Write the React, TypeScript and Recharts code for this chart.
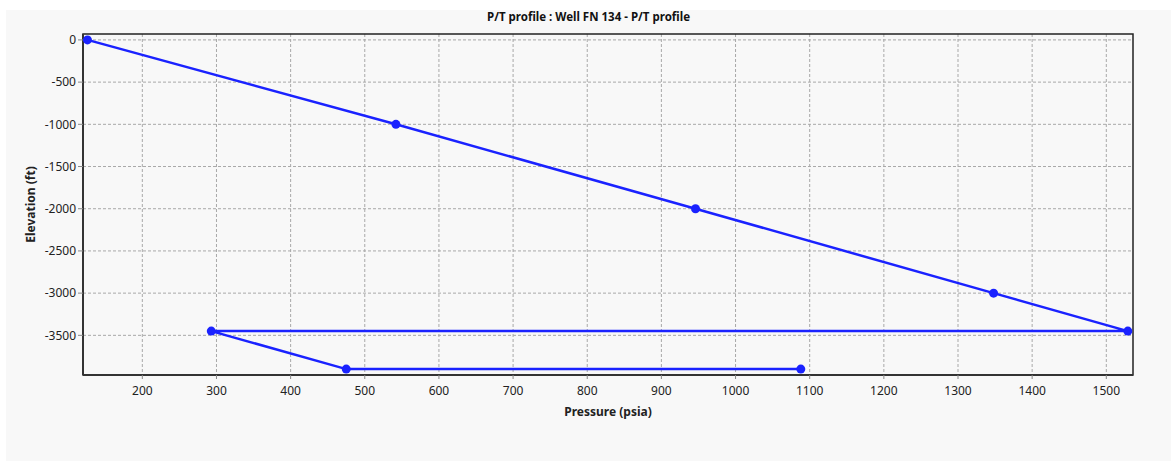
import {
  CartesianGrid,
  Label,
  Line,
  LineChart,
  ReferenceArea,
  XAxis,
  YAxis,
} from "recharts";

document.body.style.margin = "0";

// pressure (psia) vs elevation (ft), in the order the profile is walked
const pressure = [126, 542, 946, 1348, 1529, 293, 475, 1088];
const elevation = [0, -1000, -2000, -3000, -3450, -3450, -3900, -3900];

const xTicks = [200, 300, 400, 500, 600, 700, 800, 900, 1000, 1100, 1200, 1300, 1400, 1500];
const yTicks = [0, -500, -1000, -1500, -2000, -2500, -3000, -3500];

const X_DOMAIN: [number, number] = [120, 1536];
const Y_DOMAIN: [number, number] = [-3970, 70];

const BLUE = "#1a22ff";
const FONT = "'Noto Sans', sans-serif";

const data = pressure.map((p, i) => ({ pressure: p, elevation: elevation[i] }));

function YTitle(props: any) {
  const { viewBox } = props;
  const cy = viewBox.y + viewBox.height / 2;
  const cx = 30;
  return (
    <text
      x={cx}
      y={cy}
      transform={`rotate(-90 ${cx} ${cy})`}
      textAnchor="middle"
      dominantBaseline="central"
      fontFamily={FONT}
      fontSize={12}
      fontWeight={700}
      fill="#222"
    >
      Elevation (ft)
    </text>
  );
}

function XTitle(props: any) {
  const { viewBox } = props;
  return (
    <text
      x={viewBox.x + viewBox.width / 2}
      y={411}
      textAnchor="middle"
      dominantBaseline="central"
      fontFamily={FONT}
      fontSize={12}
      fontWeight={700}
      fill="#222"
    >
      Pressure (psia)
    </text>
  );
}

export default function App() {
  return (
    <div style={{ position: "relative", width: 1171, height: 461, background: "#fff" }}>
      <div
        style={{
          position: "absolute",
          left: 6,
          top: 10,
          right: 0,
          bottom: 0,
          background: "#f8f8f8",
        }}
      />
      <div
        style={{
          position: "absolute",
          left: 0,
          width: 1171,
          top: 9,
          textAlign: "center",
          paddingLeft: 6,
          boxSizing: "border-box",
          fontFamily: FONT,
          fontSize: 11.5,
          fontWeight: 700,
          color: "#111",
        }}
      >
        P/T profile : Well FN 134 - P/T profile
      </div>
      <div style={{ position: "absolute", left: 0, top: 0 }}>
        <LineChart
          width={1171}
          height={461}
          data={data}
          margin={{ top: 34, right: 38, bottom: 56, left: 23 }}
        >
          <CartesianGrid
            stroke="#a8a8a8"
            strokeDasharray="3 2"
            horizontalValues={yTicks}
            verticalValues={xTicks}
          />
          <XAxis
            type="number"
            dataKey="pressure"
            domain={X_DOMAIN}
            ticks={xTicks}
            allowDataOverflow
            height={30}
            tickSize={4}
            tickMargin={7}
            tick={{ fontFamily: FONT, fontSize: 12, fill: "#222" }}
            tickLine={{ stroke: "#888" }}
            axisLine={{ stroke: "#333", strokeWidth: 2 }}
          >
            <Label content={XTitle} />
          </XAxis>
          <YAxis
            type="number"
            dataKey="elevation"
            domain={Y_DOMAIN}
            ticks={yTicks}
            allowDataOverflow
            width={60}
            tickSize={5}
            tickMargin={2}
            tick={{ fontFamily: FONT, fontSize: 12, fill: "#222" }}
            tickLine={{ stroke: "#888" }}
            axisLine={{ stroke: "#333", strokeWidth: 2 }}
          >
            <Label content={YTitle} />
          </YAxis>
          <ReferenceArea
            x1={X_DOMAIN[0]}
            x2={X_DOMAIN[1]}
            y1={Y_DOMAIN[0]}
            y2={Y_DOMAIN[1]}
            fill="none"
            stroke="#222"
            strokeWidth={1.5}
          />
          <Line
            type="linear"
            dataKey="elevation"
            stroke={BLUE}
            strokeWidth={2.5}
            dot={{ r: 4.5, fill: BLUE, stroke: BLUE, strokeWidth: 0 }}
            activeDot={false}
            isAnimationActive={false}
          />
        </LineChart>
      </div>
    </div>
  );
}
